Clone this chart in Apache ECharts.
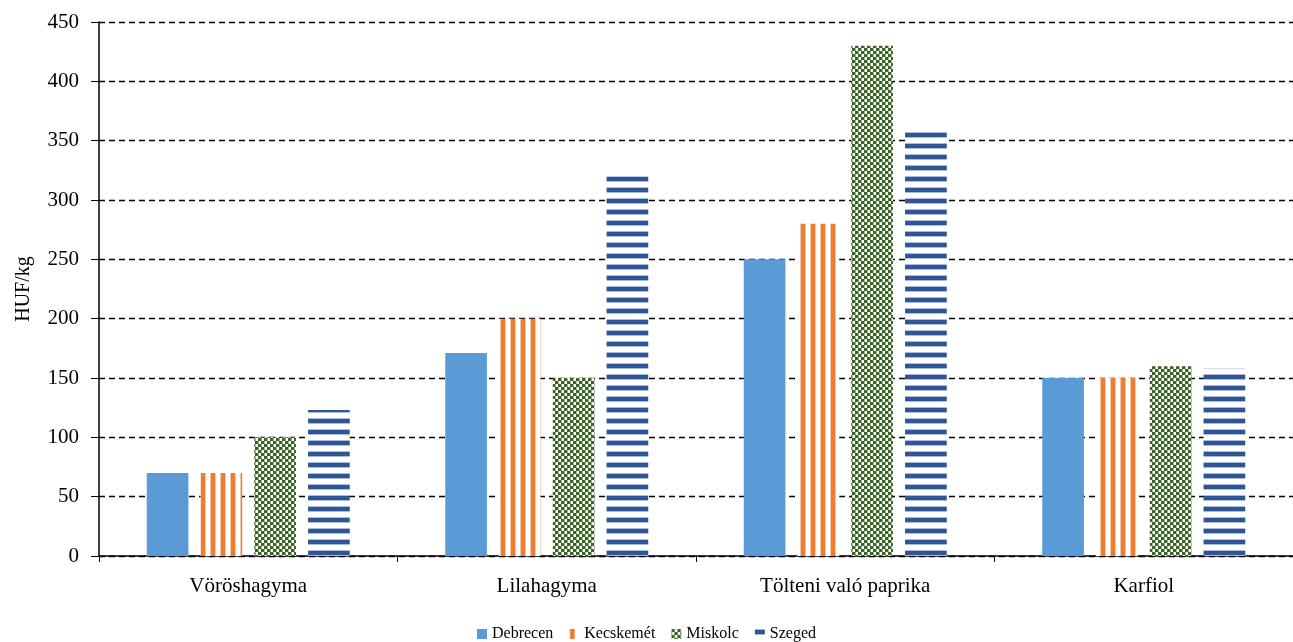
<!DOCTYPE html>
<html>
<head>
<meta charset="utf-8">
<script src="https://cdn.jsdelivr.net/npm/echarts@6/dist/echarts.min.js"></script>
<style>html,body{margin:0;padding:0;background:#fff}#c{width:1293px;height:642px}</style>
</head>
<body>
<div id="c"></div>
<script>
const categories = ['Vöröshagyma', 'Lilahagyma', 'Tölteni való paprika', 'Karfiol'];
const debrecen = [70, 171, 250, 150];
const kecskemet = [70, 200, 280, 150];
const miskolc = [100, 150, 430, 160];
const szeged = [123, 320, 358, 158];
const yTicks = [0, 50, 100, 150, 200, 250, 300, 350, 400, 450];

function stripeV() {
  const c = document.createElement('canvas'); c.width = 10; c.height = 10;
  const g = c.getContext('2d'); g.fillStyle = '#fff'; g.fillRect(0,0,10,10);
  g.fillStyle = '#f4c9a8'; g.fillRect(0,0,1,10); g.fillRect(5,0,1,10);
  g.fillStyle = '#ed7d31'; g.fillRect(1,0,4,10);
  return c;
}
function stripeH() {
  const c = document.createElement('canvas'); c.width = 10; c.height = 11;
  const g = c.getContext('2d'); g.fillStyle = '#fff'; g.fillRect(0,0,10,11);
  g.fillStyle = '#a9bcdc'; g.fillRect(0,0,10,1); g.fillRect(0,5,10,1);
  g.fillStyle = '#2f5597'; g.fillRect(0,1,10,4);
  return c;
}
function checker() {
  const c = document.createElement('canvas'); c.width = 6; c.height = 6;
  const g = c.getContext('2d'); g.fillStyle = '#fff'; g.fillRect(0,0,6,6);
  g.fillStyle = '#3b6526'; g.fillRect(0,0,3,3); g.fillRect(3,3,3,3);
  g.fillStyle = '#9fb493'; g.fillRect(3,0,1,3); g.fillRect(0,3,1,3);
  return c;
}

const chart = echarts.init(document.getElementById('c'));
const font = 'Liberation Serif';
function bar(name, data, color) {
  return { name, type: 'bar', data, barGap: '29%', barCategoryGap: '32%',
    itemStyle: { color }, emphasis: { disabled: true } };
}
chart.setOption({
  animation: false,
  textStyle: { fontFamily: font },
  grid: { left: 99, width: 1201, top: 22, height: 534 },
  legend: {
    top: 621, left: 'center', icon: 'rect', itemWidth: 10, itemHeight: 10, itemGap: 16,
    textStyle: { fontFamily: font, fontSize: 16, color: '#000' },
    data: ['Debrecen', 'Kecskemét', 'Miskolc', 'Szeged']
  },
  xAxis: {
    type: 'category', data: categories,
    axisLine: { lineStyle: { color: '#000', width: 1.5 } },
    axisTick: { show: true, length: 6, lineStyle: { color: '#000' } },
    axisLabel: { fontFamily: font, fontSize: 21, color: '#000', margin: 20 }
  },
  yAxis: {
    type: 'value', min: 0, max: 450, interval: 50,
    name: 'HUF/kg', nameLocation: 'middle', nameGap: 65, nameRotate: 90,
    nameTextStyle: { fontFamily: font, fontSize: 20, color: '#000' },
    axisLine: { show: true, lineStyle: { color: '#000', width: 1.5 } },
    axisTick: { show: true, length: 8, lineStyle: { color: '#000' } },
    axisLabel: { fontFamily: font, fontSize: 21, color: '#000', margin: 20,
      formatter: v => yTicks.includes(v) ? String(v) : '' },
    splitLine: { lineStyle: { color: '#000', type: [6, 4], width: 1.3 } }
  },
  series: [
    bar('Debrecen', debrecen, '#5b9bd5'),
    bar('Kecskemét', kecskemet, { image: stripeV(), repeat: 'repeat' }),
    bar('Miskolc', miskolc, { image: checker(), repeat: 'repeat' }),
    bar('Szeged', szeged, { image: stripeH(), repeat: 'repeat' })
  ]
});
</script>
</body>
</html>
